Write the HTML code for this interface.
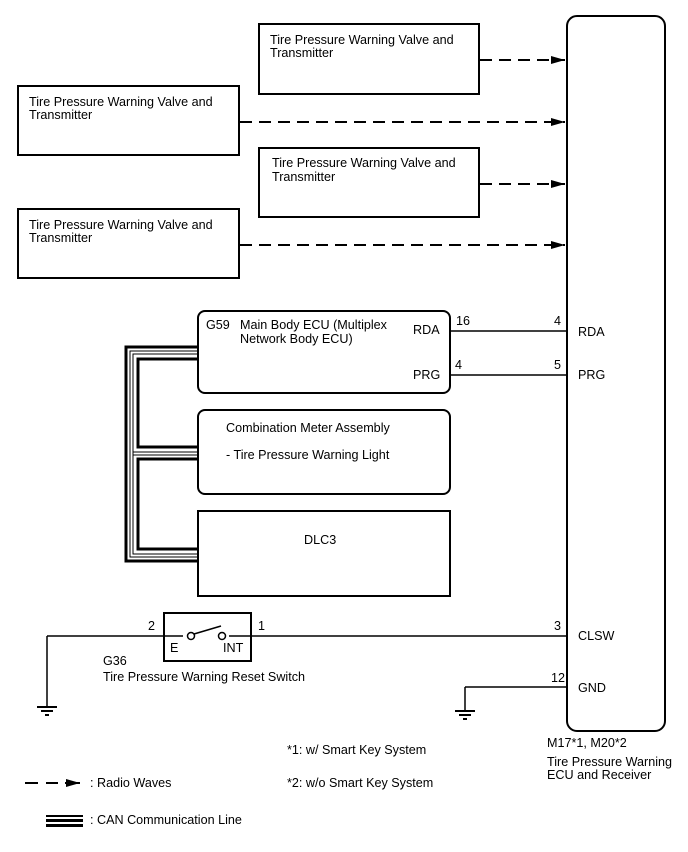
<!DOCTYPE html>
<html><head><meta charset="utf-8"><style>
html,body{margin:0;padding:0;background:#fff;}
svg{display:block;}
text{font-family:"Liberation Sans",Arial,sans-serif;font-size:12.6px;fill:#000;}
</style></head><body>
<svg width="688" height="852" viewBox="0 0 688 852" xmlns="http://www.w3.org/2000/svg">
<defs>
<marker id="ah" markerWidth="14" markerHeight="8" refX="14" refY="4" orient="auto" markerUnits="userSpaceOnUse">
<path d="M0,0 L14,4 L0,8 Z" fill="#000"/>
</marker>
</defs>
<g fill="none" stroke="#000" stroke-width="2">
<rect x="259" y="24" width="220" height="70"/>
<rect x="18" y="86" width="221" height="69"/>
<rect x="259" y="148" width="220" height="69"/>
<rect x="18" y="209" width="221" height="69"/>
<rect x="567" y="16" width="98" height="715" rx="10"/>
<rect x="198" y="311" width="252" height="82" rx="7"/>
<rect x="198" y="410" width="252" height="84" rx="7"/>
<rect x="198" y="511" width="252" height="85"/>
<rect x="164" y="613" width="87" height="48"/>
</g>
<g stroke="#000" stroke-width="2" stroke-dasharray="12,7" fill="none">
<line x1="480" y1="60" x2="565" y2="60" marker-end="url(#ah)"/>
<line x1="240" y1="122" x2="565" y2="122" marker-end="url(#ah)"/>
<line x1="480" y1="184" x2="565" y2="184" marker-end="url(#ah)"/>
<line x1="240" y1="245" x2="565" y2="245" marker-end="url(#ah)"/>
</g>
<g stroke="#000" stroke-width="1.5" fill="none">
<line x1="450" y1="331" x2="567" y2="331"/>
<line x1="450" y1="375" x2="567" y2="375"/>
<line x1="47" y1="636" x2="183" y2="636"/>
<line x1="229" y1="636" x2="567" y2="636"/>
<line x1="47" y1="636" x2="47" y2="706"/>
<line x1="465" y1="687" x2="567" y2="687"/>
<line x1="465" y1="687" x2="465" y2="710"/>
<circle cx="191" cy="636" r="3.5" fill="#fff"/>
<circle cx="222" cy="636" r="3.5" fill="#fff"/>
<line x1="194" y1="634" x2="221" y2="626"/>
</g>
<g stroke="#000" stroke-width="2">
<line x1="37" y1="707" x2="57" y2="707"/>
<line x1="41" y1="711" x2="53" y2="711"/>
<line x1="45" y1="715" x2="49" y2="715"/>
<line x1="455" y1="711" x2="475" y2="711"/>
<line x1="459" y1="715" x2="471" y2="715"/>
<line x1="463" y1="719" x2="467" y2="719"/>
</g>
<g fill="none" stroke="#000">
<path d="M198,347 H126 V561 H198" stroke-width="3"/>
<path d="M198,351 H130 V557 H198" stroke-width="1"/>
<path d="M198,354 H133 V554 H198" stroke-width="1"/>
<path d="M198,359 H138 V447 H198" stroke-width="3"/>
<path d="M198,459 H138 V549 H198" stroke-width="3"/>
<path d="M133,452 H198" stroke-width="1"/>
<path d="M133,455 H198" stroke-width="1"/>
</g>
<g stroke="#000" stroke-width="2">
<line x1="25" y1="783" x2="38" y2="783"/>
<line x1="46" y1="783" x2="58" y2="783"/>
<line x1="65" y1="783" x2="80" y2="783" marker-end="url(#ah)"/>
<rect x="46" y="815" width="37" height="2" fill="#000" stroke="none"/>
<rect x="46" y="819" width="37" height="3" fill="#000" stroke="none"/>
<rect x="46" y="824" width="37" height="3" fill="#000" stroke="none"/>
</g>
<text x="270" y="44">Tire Pressure Warning Valve and</text>
<text x="270" y="57">Transmitter</text>
<text x="29" y="106">Tire Pressure Warning Valve and</text>
<text x="29" y="119">Transmitter</text>
<text x="272" y="167">Tire Pressure Warning Valve and</text>
<text x="272" y="181">Transmitter</text>
<text x="29" y="229">Tire Pressure Warning Valve and</text>
<text x="29" y="242">Transmitter</text>
<text x="206" y="329">G59</text>
<text x="240" y="329">Main Body ECU (Multiplex</text>
<text x="240" y="343">Network Body ECU)</text>
<text x="413" y="334">RDA</text>
<text x="413" y="379">PRG</text>
<text x="456" y="325">16</text>
<text x="455" y="369">4</text>
<text x="554" y="325">4</text>
<text x="554" y="369">5</text>
<text x="578" y="336">RDA</text>
<text x="578" y="379">PRG</text>
<text x="226" y="432">Combination Meter Assembly</text>
<text x="226" y="459">- Tire Pressure Warning Light</text>
<text x="304" y="544">DLC3</text>
<text x="148" y="630">2</text>
<text x="258" y="630">1</text>
<text x="170" y="652">E</text>
<text x="223" y="652">INT</text>
<text x="103" y="665">G36</text>
<text x="103" y="681">Tire Pressure Warning Reset Switch</text>
<text x="554" y="630">3</text>
<text x="578" y="640">CLSW</text>
<text x="551" y="682">12</text>
<text x="578" y="692">GND</text>
<text x="547" y="747">M17*1, M20*2</text>
<text x="547" y="766">Tire Pressure Warning</text>
<text x="547" y="779">ECU and Receiver</text>
<text x="287" y="754">*1: w/ Smart Key System</text>
<text x="287" y="787">*2: w/o Smart Key System</text>
<text x="90" y="787">: Radio Waves</text>
<text x="90" y="824">: CAN Communication Line</text>
</svg>
</body></html>
